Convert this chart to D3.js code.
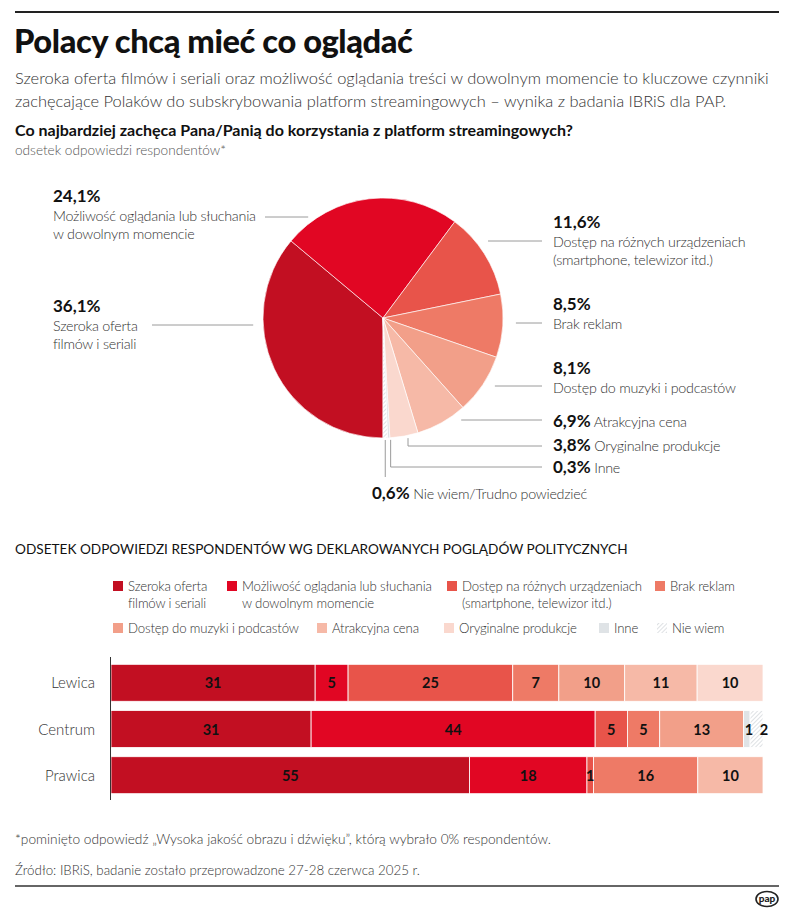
<!DOCTYPE html>
<html lang="pl">
<head>
<meta charset="utf-8">
<script src="https://cdn.jsdelivr.net/npm/d3@7"></script>
<style>
  html, body { margin: 0; padding: 0; background: #fff; }
  svg { display: block; font-family: Lato, "Open Sans", sans-serif; }
</style>
</head>
<body>
<svg id="chart" width="792" height="916"></svg>
<script>
// ---------- DATA ----------
const categories = [
  "Szeroka oferta filmów i seriali",
  "Możliwość oglądania lub słuchania w dowolnym momencie",
  "Dostęp na różnych urządzeniach (smartphone, telewizor itd.)",
  "Brak reklam",
  "Dostęp do muzyki i podcastów",
  "Atrakcyjna cena",
  "Oryginalne produkcje",
  "Inne",
  "Nie wiem/Trudno powiedzieć"
];
const pieValues = [36.1, 24.1, 11.6, 8.5, 8.1, 6.9, 3.8, 0.3, 0.6];
const pieLabelLines = [
  ["Szeroka oferta", "filmów i seriali"],
  ["Możliwość oglądania lub słuchania", "w dowolnym momencie"],
  ["Dostęp na różnych urządzeniach", "(smartphone, telewizor itd.)"],
  ["Brak reklam"],
  ["Dostęp do muzyki i podcastów"],
  ["Atrakcyjna cena"],
  ["Oryginalne produkcje"],
  ["Inne"],
  ["Nie wiem/Trudno powiedzieć"]
];
const legendLabels = [
  ["Szeroka oferta", "filmów i seriali"],
  ["Możliwość oglądania lub słuchania", "w dowolnym momencie"],
  ["Dostęp na różnych urządzeniach", "(smartphone, telewizor itd.)"],
  ["Brak reklam"],
  ["Dostęp do muzyki i podcastów"],
  ["Atrakcyjna cena"],
  ["Oryginalne produkcje"],
  ["Inne"],
  ["Nie wiem"]
];
const groups = ["Lewica", "Centrum", "Prawica"];
const lewicaValues  = [31, 5, 25, 7, 10, 11, 10, 0, 0];
const centrumValues = [31, 44, 5, 5, 13, 0, 0, 1, 2];
const prawicaValues = [55, 18, 1, 16, 0, 10, 0, 0, 0];
const colors = ["#c20f22", "#e10623", "#e8544a", "#ee7a66", "#f29f89", "#f6b9a7", "#fad8ce", "#dfe3e6", "url(#hatch)"];

const title = "Polacy chcą mieć co oglądać";
const subtitle = [
  "Szeroka oferta filmów i seriali oraz możliwość oglądania treści w dowolnym momencie to kluczowe czynniki",
  "zachęcające Polaków do subskrybowania platform streamingowych – wynika z badania IBRiS dla PAP."
];
const question = "Co najbardziej zachęca Pana/Panią do korzystania z platform streamingowych?";
const unitNote = "odsetek odpowiedzi respondentów*";
const barTitle = "ODSETEK ODPOWIEDZI RESPONDENTÓW WG DEKLAROWANYCH POGLĄDÓW POLITYCZNYCH";
const footnote = "*pominięto odpowiedź „Wysoka jakość obrazu i dźwięku”, którą wybrało 0% respondentów.";
const source = "Źródło: IBRiS, badanie zostało przeprowadzone 27-28 czerwca 2025 r.";

// ---------- SETUP ----------
const svg = d3.select("#chart");
const defs = svg.append("defs");
const pat = defs.append("pattern").attr("id", "hatch").attr("patternUnits", "userSpaceOnUse")
  .attr("width", 3).attr("height", 3).attr("patternTransform", "rotate(45)");
pat.append("rect").attr("width", 3).attr("height", 3).attr("fill", "#fff");
pat.append("line").attr("x1", 0).attr("y1", 0).attr("x2", 0).attr("y2", 3)
  .attr("stroke", "#c9ced2").attr("stroke-width", 1.2);

const fmtPct = v => d3.format(".1f")(v).replace(".", ",") + "%";
const TXT = "#333";

function fit(sel, w) {
  const fs = +sel.attr("font-size");
  const l = sel.node().getComputedTextLength();
  if (l > 0) sel.attr("font-size", (fs * w / l).toFixed(2));
  return +sel.attr("font-size");
}

svg.append("line").attr("x1", 15).attr("x2", 779).attr("y1", 12).attr("y2", 12)
  .attr("stroke", "#222").attr("stroke-width", 2);

const tTitle = svg.append("text").attr("x", 14).attr("y", 53).text(title)
  .attr("font-size", 31).attr("font-weight", 900).attr("fill", "#111").attr("letter-spacing", -0.4);
fit(tTitle, 398);

const subs = svg.selectAll("text.sub").data(subtitle).join("text").attr("class", "sub")
  .attr("x", 15).attr("y", (d, i) => 84 + i * 22.5).text(d => d)
  .attr("font-size", 17).attr("font-weight", 300).attr("fill", TXT);
const subFs = fit(d3.select(subs.nodes()[0]), 755);
subs.attr("font-size", subFs);

fit(svg.append("text").attr("x", 15).attr("y", 136).text(question)
  .attr("font-size", 16.2).attr("font-weight", 700).attr("fill", "#111"), 558);
fit(svg.append("text").attr("x", 15).attr("y", 155).text(unitNote)
  .attr("font-size", 13.5).attr("font-weight", 300).attr("fill", "#555"), 211);

// ---------- PIE ----------
const cx = 383, cy = 318, R = 120;
const pie = d3.pie().sort(null).value(d => d).startAngle(Math.PI).endAngle(3 * Math.PI);
const arcs = pie(pieValues);
const arc = d3.arc().innerRadius(0).outerRadius(R);
const gPie = svg.append("g").attr("transform", `translate(${cx},${cy})`);
gPie.selectAll("path").data(arcs).join("path")
  .attr("d", arc).attr("fill", (d, i) => colors[i])
  .attr("stroke", "#fff").attr("stroke-width", 0.8).attr("stroke-opacity", 0.8);

const LEAD = "#9a9a9a";
const PCT_FS = 17, DESC_FS = 14.3, DESC_LS = -0.25;
const edgeX = (y, side) => cx + side * Math.sqrt(Math.max(0, R * R - (y - cy) * (y - cy)));
const midA = d => (d.startAngle + d.endAngle) / 2;

function stackedLabel(i, x, y, lineY, side, lineEnd) {
  const g = svg.append("g");
  g.append("text").attr("x", x).attr("y", y).text(fmtPct(pieValues[i]))
    .attr("font-size", PCT_FS).attr("font-weight", 700).attr("fill", "#111");
  pieLabelLines[i].forEach((t, k) => {
    g.append("text").attr("x", x).attr("y", y + 19 + k * 18).text(t)
      .attr("font-size", DESC_FS).attr("letter-spacing", DESC_LS)
      .attr("font-weight", 300).attr("fill", TXT);
  });
  const ex = edgeX(lineY, side);
  const x1 = side < 0 ? lineEnd : ex + 13;
  const x2 = side < 0 ? ex - 10 : lineEnd;
  g.append("line").attr("x1", x1).attr("x2", x2).attr("y1", lineY).attr("y2", lineY)
    .attr("stroke", LEAD).attr("stroke-width", 1);
}
stackedLabel(1, 53, 202, 217, -1, 265);
stackedLabel(0, 53, 312, 325, -1, 152);
stackedLabel(2, 553, 228, 241, 1, 542);
stackedLabel(3, 553, 310, 323, 1, 542);
stackedLabel(4, 553, 374, 386, 1, 542);

function inlineLabel(i, x, y) {
  const t = svg.append("text").attr("x", x).attr("y", y);
  t.append("tspan").text(fmtPct(pieValues[i])).attr("font-size", PCT_FS).attr("font-weight", 700).attr("fill", "#111");
  t.append("tspan").text(" " + pieLabelLines[i][0]).attr("font-size", DESC_FS)
    .attr("letter-spacing", DESC_LS).attr("font-weight", 300).attr("fill", TXT);
}
inlineLabel(5, 553, 427);
inlineLabel(6, 553, 451);
inlineLabel(7, 553, 473);
inlineLabel(8, 372, 499);

svg.append("line").attr("x1", edgeX(420, 1) + 15).attr("x2", 542).attr("y1", 420).attr("y2", 420)
  .attr("stroke", LEAD).attr("stroke-width", 1);
function elbow(i, yEnd, toX, dx) {
  const a = midA(arcs[i]);
  const xx = cx + R * Math.sin(a) + dx;
  const y0 = cy - R * Math.cos(a) + 2;
  const pts = toX ? [[xx, y0], [xx, yEnd], [toX, yEnd]] : [[xx, y0], [xx, yEnd]];
  svg.append("path").attr("d", d3.line()(pts)).attr("fill", "none")
    .attr("stroke", LEAD).attr("stroke-width", 1);
}
elbow(6, 446, 542, 4);
elbow(7, 467, 542, 2);
elbow(8, 477, null, 0);

// ---------- BAR SECTION ----------
fit(svg.append("text").attr("x", 15).attr("y", 554).text(barTitle)
  .attr("font-size", 15).attr("font-weight", 400).attr("fill", "#111"), 613);

const legendPos = [
  [113, 586], [227, 586], [447, 586], [655, 586],
  [113, 628], [317, 628], [444, 628], [599, 628], [657, 628]
];
legendLabels.forEach((lines, i) => {
  const [lx, ly] = legendPos[i];
  svg.append("rect").attr("x", lx).attr("y", ly - 5).attr("width", 10).attr("height", 10)
    .attr("fill", colors[i]);
  lines.forEach((t, k) => {
    svg.append("text").attr("x", lx + 15).attr("y", ly + 5 + k * 17).text(t)
      .attr("font-size", 13.2).attr("letter-spacing", -0.15)
      .attr("font-weight", 300).attr("fill", TXT);
  });
});

const seriesByGroup = [lewicaValues, centrumValues, prawicaValues];
const x = d3.scaleLinear().domain([0, 100]).range([111, 763]);
const y = d3.scaleBand().domain(groups).range([659.7, 798.3]).paddingInner(0.2).paddingOuter(0.1);

groups.forEach((g, gi) => {
  const vals = seriesByGroup[gi];
  const total = d3.sum(vals);
  let cum = 0;
  const segs = vals.map((v, i) => {
    const s = { i, v, x0: cum / total * 100, x1: (cum + v) / total * 100 };
    cum += v;
    return s;
  }).filter(s => s.v > 0);
  const row = svg.append("g");
  row.selectAll("rect").data(segs).join("rect")
    .attr("x", d => x(d.x0)).attr("width", d => x(d.x1) - x(d.x0))
    .attr("y", y(g)).attr("height", y.bandwidth())
    .attr("fill", d => colors[d.i])
    .attr("stroke", "#fff").attr("stroke-width", 0.8);
  row.selectAll("text").data(segs).join("text")
    .attr("x", d => {
      const w = x(d.x1) - x(d.x0);
      if (w < 16 && d.i === 8) return x(d.x1) + 1;
      if (w < 16 && d.i === 7) return (x(d.x0) + x(d.x1)) / 2 + 2;
      return (x(d.x0) + x(d.x1)) / 2;
    })
    .attr("y", y(g) + y.bandwidth() / 2 + 5.5)
    .attr("text-anchor", "middle").text(d => d.v)
    .attr("font-size", 14.5).attr("font-weight", 700).attr("fill", "#111");
  svg.append("text").attr("x", 95).attr("y", y(g) + y.bandwidth() / 2 + 5.5)
    .attr("text-anchor", "end").text(g)
    .attr("font-size", 15).attr("font-weight", 300).attr("fill", TXT);
});
svg.append("line").attr("x1", 110.5).attr("x2", 110.5).attr("y1", 657).attr("y2", 800)
  .attr("stroke", "#333").attr("stroke-width", 1);

// ---------- FOOTER ----------
fit(svg.append("text").attr("x", 15).attr("y", 844).text(footnote)
  .attr("font-size", 13.6).attr("font-weight", 300).attr("fill", TXT), 536);
fit(svg.append("text").attr("x", 15).attr("y", 875).text(source)
  .attr("font-size", 13.6).attr("font-weight", 300).attr("fill", TXT), 405);
svg.append("line").attr("x1", 15).attr("x2", 779).attr("y1", 886).attr("y2", 886)
  .attr("stroke", "#333").attr("stroke-width", 1.5);
const logo = svg.append("g").attr("transform", "translate(767,899)");
logo.append("ellipse").attr("rx", 11).attr("ry", 7.5).attr("fill", "#fff")
  .attr("stroke", "#222").attr("stroke-width", 1.6);
logo.append("text").attr("y", 3).attr("text-anchor", "middle").text("pap")
  .attr("font-size", 10).attr("font-weight", 900).attr("fill", "#222");
</script>
</body>
</html>
